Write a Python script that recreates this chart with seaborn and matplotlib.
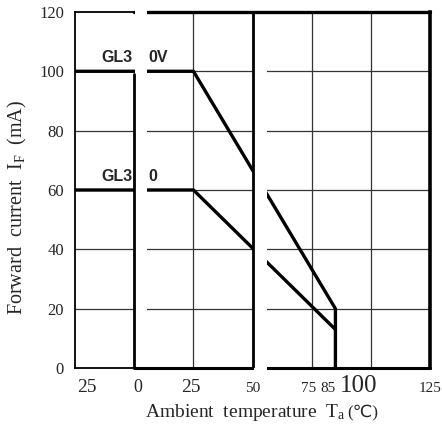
import matplotlib
matplotlib.use("Agg")
import matplotlib.pyplot as plt
import matplotlib.transforms as mtransforms
import seaborn as sns

# derating curves
temp_380v = [-25, 25, 85, 85]
curr_380v = [100, 100, 20, 0]
temp_380 = [-25, 25, 85]
curr_380 = [60, 60, 13]

xticks = [-25, 0, 25, 50, 75, 85, 100, 125]
xtick_labels = ["25", "0", "25", "50", "75", "85", "100", "125"]
yticks = [0, 20, 40, 60, 80, 100, 120]

sns.set_style("white")
plt.rcParams["font.family"] = ["Liberation Serif", "DejaVu Sans", "Noto Sans CJK JP"]
plt.rcParams["mathtext.fontset"] = "custom"
plt.rcParams["mathtext.rm"] = "Liberation Serif"
plt.rcParams["mathtext.it"] = "Liberation Serif:italic"

fig = plt.figure(figsize=(4.42, 4.26), dpi=100)
ax = fig.add_axes([0.170, 0.136, 0.803, 0.836])

# grid
for x in [25, 75, 100]:
    ax.axvline(x, color="#333333", lw=0.9, zorder=1)
for y in [20, 40, 60, 80, 100]:
    ax.axhline(y, color="#333333", lw=0.9, zorder=1)

sns.lineplot(x=temp_380v, y=curr_380v, estimator=None, sort=False,
             color="black", lw=2.4, ax=ax, zorder=3)
sns.lineplot(x=temp_380, y=curr_380, estimator=None, sort=False,
             color="black", lw=2.4, ax=ax, zorder=3)

# heavier frame on the right part
ax.plot([0, 125], [0, 0], color="black", lw=2.2, zorder=3, clip_on=False)
ax.plot([0, 125], [120, 120], color="black", lw=2.4, zorder=3, clip_on=False)

# scan gaps
ax.axvspan(0.5, 5.5, ymin=0.006, ymax=1.01, color="white", zorder=4, lw=0,
           clip_on=False)
ax.axvspan(50.8, 56, ymin=-0.01, ymax=0.985, color="white", zorder=4, lw=0,
           clip_on=False)
ax.plot([0, 0], [0, 99], color="black", lw=2, zorder=5)
ax.axvline(50, color="black", lw=2, zorder=5)

lab = dict(fontfamily="Liberation Sans", fontweight="bold", fontsize=11.5,
           va="center", ha="left", zorder=6)
ax.text(-14, 104.5, "GL3", **lab)
ax.text(5.8, 104.5, "0V", **lab)
ax.text(-14, 64.5, "GL3", **lab)
ax.text(5.8, 64.5, "0", **lab)

ax.set_xlim(-25, 125)
ax.set_ylim(0, 120)
ax.set_xticks(xticks)
ax.set_xticklabels(xtick_labels)
ax.set_yticks(yticks)
ax.set_yticklabels([str(v) for v in yticks], fontsize=12)
ax.tick_params(axis="x", length=0, pad=17)
ax.tick_params(axis="y", length=0, pad=8)

# uneven label sizes / shifts in the scan
xl_size = [14, 13, 14, 11, 11, 11, 18, 11]
xl_shift = [12, 4, -3, 0, -3, -7, -12, 0]
for t, s, dx in zip(ax.get_xticklabels(), xl_size, xl_shift):
    t.set_fontsize(s)
    t.set_va("baseline")
    t.set_transform(t.get_transform() +
                    mtransforms.ScaledTranslation(dx / 100, 0, fig.dpi_scale_trans))

for side, w in [("left", 1.3), ("top", 1.3), ("right", 2.6), ("bottom", 1.3)]:
    ax.spines[side].set_visible(True)
    ax.spines[side].set_color("black")
    ax.spines[side].set_linewidth(w)

fig.text(346 / 442, 1 - 417 / 426, "Ambient  temperature  $\\mathrm{T_a}$",
         ha="right", va="baseline", fontsize=14)
fig.text(347 / 442, 1 - 417 / 426, "(\u2103)", ha="left", va="baseline",
         fontsize=12.5)
fig.text(17 / 442, 1 - 207 / 426, "Forward  current  $\\mathrm{I_F}$  (mA)",
         ha="center", va="center", rotation=90, fontsize=14.5)

fig.savefig("out.png", dpi=100)
